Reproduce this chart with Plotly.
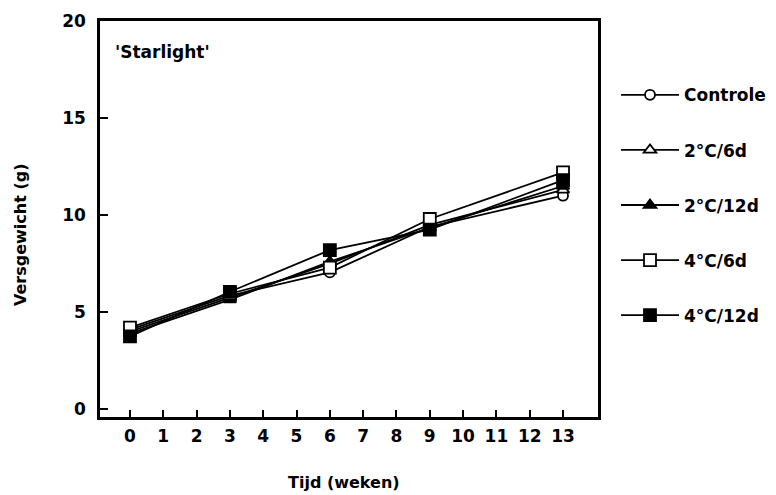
import plotly.graph_objects as go

weeks = [0, 3, 6, 9, 13]
series_names = ["Controle", "2°C/6d", "2°C/12d", "4°C/6d", "4°C/12d"]
controle = [4.1, 5.85, 7.05, 9.4, 11.0]
c2_6d = [4.0, 5.75, 7.5, 9.5, 11.3]
c2_12d = [3.9, 5.65, 7.6, 9.35, 11.5]
c4_6d = [4.2, 5.95, 7.3, 9.8, 12.2]
c4_12d = [3.75, 6.05, 8.2, 9.25, 11.8]
x_ticks = list(range(0, 14))
y_ticks = [0, 5, 10, 15, 20]

values = [controle, c2_6d, c2_12d, c4_6d, c4_12d]
symbols = ["circle", "triangle-up", "triangle-up", "square", "square"]
fills = ["white", "white", "black", "white", "black"]
sizes = [10, 11, 11, 12, 12]

FONT = "DejaVu Sans"
fig = go.Figure()
for name, vals, sym, fc, sz in zip(series_names, values, symbols, fills, sizes):
    fig.add_trace(go.Scatter(
        x=weeks, y=vals, name=name, mode="lines+markers",
        line=dict(color="black", width=1.8),
        marker=dict(symbol=sym, size=sz, color=fc, line=dict(color="black", width=1.8)),
        legendgroup=name,
    ))

axis_common = dict(showline=True, linecolor="black", linewidth=2.5, mirror=True,
                   showgrid=False, zeroline=False, ticks="inside", tickcolor="black",
                   tickwidth=1.5,
                   tickfont=dict(family=FONT, size=17, color="black", weight="bold"))

fig.update_layout(
    width=776, height=495,
    margin=dict(l=100, r=178, t=21, b=78, autoexpand=False),
    paper_bgcolor="white", plot_bgcolor="white",
    font=dict(family=FONT, color="black"),
    xaxis=dict(range=[-0.9, 14.05], tickvals=x_ticks, ticklen=7, ticklabelstandoff=2, **axis_common),
    yaxis=dict(range=[-0.4, 20], tickvals=y_ticks, ticklen=8, ticklabelstandoff=8, **axis_common),
    legend=dict(x=(616 - 100) / 498, y=0.858, xanchor="left", yanchor="top",
                font=dict(family=FONT, size=17, color="black", weight="bold"),
                tracegroupgap=30, itemwidth=58, bgcolor="rgba(0,0,0,0)"),
    showlegend=True,
)

fig.add_annotation(text="'Starlight'", xref="paper", yref="paper", x=0.026, y=0.922,
                   xanchor="left", yanchor="middle", showarrow=False,
                   font=dict(family=FONT, size=17, color="black", weight="bold"))
fig.add_annotation(text="Tijd (weken)", xref="paper", yref="paper", x=(344 - 100) / 498,
                   y=-(482 - 417) / 396, xanchor="center", yanchor="middle", showarrow=False,
                   font=dict(family=FONT, size=16, color="black", weight="bold"))
fig.add_annotation(text="Versgewicht (g)", xref="paper", yref="paper", x=(20 - 100) / 498,
                   y=1 - (235 - 21) / 396, xanchor="center", yanchor="middle", textangle=-90,
                   showarrow=False,
                   font=dict(family=FONT, size=16, color="black", weight="bold"))

fig.write_html("out.html")
